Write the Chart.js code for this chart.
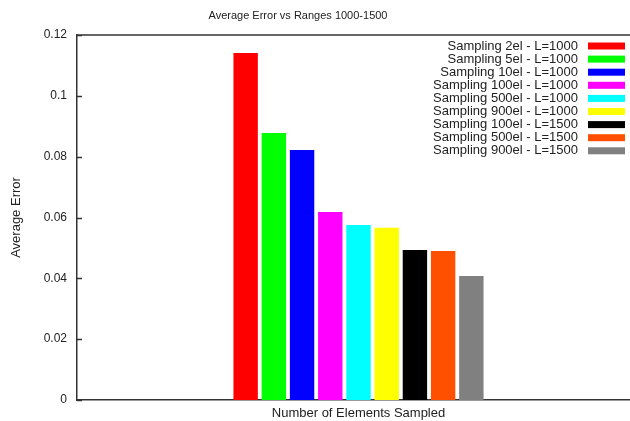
<!DOCTYPE html>
<html>
<head>
<meta charset="utf-8">
<script src="https://cdn.jsdelivr.net/npm/chart.js@4/dist/chart.umd.min.js"></script>
<style>
  html, body { margin: 0; padding: 0; background: #fff; }
  #wrap { width: 630px; height: 421px; overflow: hidden; position: relative; }
  canvas { display: block; }
</style>
</head>
<body>
<div id="wrap"><canvas id="errChart" width="640" height="421"></canvas></div>
<script>
// data
const seriesNames = [
  "Sampling 2el - L=1000",
  "Sampling 5el - L=1000",
  "Sampling 10el - L=1000",
  "Sampling 100el - L=1000",
  "Sampling 500el - L=1000",
  "Sampling 900el - L=1000",
  "Sampling 100el - L=1500",
  "Sampling 500el - L=1500",
  "Sampling 900el - L=1500"
]
const errorValues = [0.1141, 0.0878, 0.0822, 0.0618, 0.0575, 0.0566, 0.0493, 0.0490, 0.0408]
const barColors = ["#ff0000", "#00ff00", "#0000ff", "#ff00ff", "#00ffff", "#ffff00", "#000000", "#ff5000", "#808080"]
const categories = [""]
const yTicks = [0, 0.02, 0.04, 0.06, 0.08, 0.1, 0.12]

const FONT = "'Liberation Sans', Arial, sans-serif"
const INK = "#222"

// gnuplot-ish frame, inward ticks, titles and legend (text left of swatch)
const gnuplotBits = {
  id: "gnuplotBits",
  afterDraw(chart) {
    const ctx = chart.ctx
    const a = chart.chartArea
    const y = chart.scales.y
    ctx.save()
    ctx.strokeStyle = "#333"
    ctx.lineWidth = 1.5
    ctx.beginPath()
    ctx.moveTo(a.left, a.top)
    ctx.lineTo(a.right, a.top)
    yTicks.forEach(v => {
      const py = Math.round(y.getPixelForValue(v)) + 0.5
      ctx.moveTo(a.left, py)
      ctx.lineTo(a.left + 5, py)
    })
    ctx.stroke()

    ctx.fillStyle = INK
    ctx.textAlign = "center"
    ctx.textBaseline = "middle"
    ctx.font = "11px " + FONT
    ctx.fillText("Average Error vs Ranges 1000-1500", 298, 16)
    ctx.font = "13px " + FONT
    ctx.fillText("Number of Elements Sampled", (a.left + a.right) / 2, 413)
    ctx.save()
    ctx.translate(16, (a.top + a.bottom) / 2)
    ctx.rotate(-Math.PI / 2)
    ctx.fillText("Average Error", 0, 0)
    ctx.restore()

    // legend
    ctx.textAlign = "right"
    chart.data.datasets.forEach((ds, i) => {
      const ry = 46 + i * 13.1
      ctx.fillStyle = INK
      ctx.fillText(ds.label, 578, ry)
      ctx.fillStyle = ds.backgroundColor
      ctx.fillRect(588, ry - 3.5, 37, 7)
    })
    ctx.restore()
  }
}

new Chart(document.getElementById("errChart"), {
  type: "bar",
  data: {
    labels: categories,
    datasets: seriesNames.map((name, i) => ({
      label: name,
      data: [errorValues[i]],
      backgroundColor: barColors[i],
      borderWidth: 0,
      categoryPercentage: 0.451,
      barPercentage: 0.865
    }))
  },
  options: {
    responsive: false,
    animation: false,
    layout: { padding: { top: 35, left: 0, right: 0, bottom: 0 } },
    plugins: {
      legend: { display: false },
      title: { display: false },
      tooltip: { enabled: false }
    },
    scales: {
      x: {
        grid: { display: false },
        ticks: { display: false },
        border: { display: true, color: "#333", width: 1.5 },
        afterFit: (s) => { s.height = 21 }
      },
      y: {
        min: 0,
        max: 0.12,
        afterBuildTicks: (s) => { s.ticks = yTicks.map(v => ({ value: v })) },
        grid: { display: false, drawTicks: false },
        border: { display: true, color: "#333", width: 1.5 },
        ticks: {
          padding: 10,
          color: INK,
          font: { family: FONT, size: 12 },
          callback: (v) => String(+v.toFixed(2))
        },
        afterFit: (s) => { s.width = 77 }
      }
    }
  },
  plugins: [gnuplotBits]
})
</script>
</body>
</html>
